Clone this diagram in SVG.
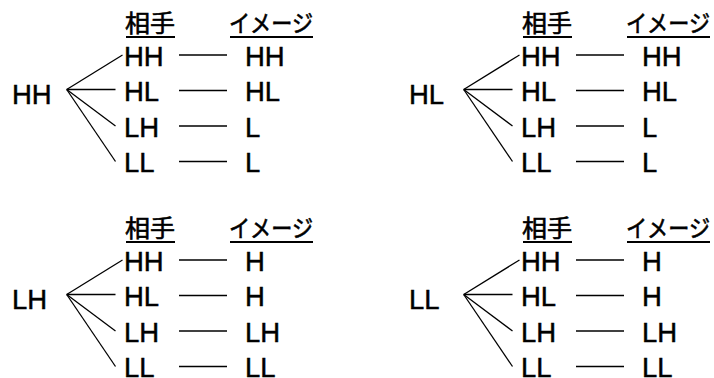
<svg xmlns="http://www.w3.org/2000/svg" width="714" height="378" viewBox="0 0 714 378">
<style>
.t{font-family:"Liberation Sans",Arial,sans-serif;font-size:27.5px;fill:#000;stroke:#000;stroke-width:0.45}
.h{font-family:"Noto Sans CJK JP","Liberation Sans",sans-serif;font-size:24px;fill:#000;stroke:#000;stroke-width:0.6}
.c{stroke:#000;stroke-width:1.3;fill:none}
.u{stroke:#000;stroke-width:2;fill:none}
</style>
<rect width="714" height="378" fill="#fff"/>

<!-- Block HH (top-left) -->
<g id="block-HH">
  <g id="hh-root"><text class="t" x="12" y="104">HH</text></g>
  <g id="hh-head1"><text class="h" x="125" y="32" textLength="50" lengthAdjust="spacingAndGlyphs">相手</text><line class="u" x1="126" y1="37" x2="175" y2="37"/></g>
  <g id="hh-head2"><text class="h" x="229" y="32" textLength="84" lengthAdjust="spacingAndGlyphs">イメージ</text><line class="u" x1="230" y1="37" x2="313" y2="37"/></g>
  <g id="hh-p1"><text class="t" x="124" y="65.5">HH</text></g>
  <g id="hh-p2"><text class="t" x="124" y="101">HL</text></g>
  <g id="hh-p3"><text class="t" x="124" y="136.5">LH</text></g>
  <g id="hh-p4"><text class="t" x="124" y="172">LL</text></g>
  <g id="hh-i1"><text class="t" x="245" y="65.5">HH</text></g>
  <g id="hh-i2"><text class="t" x="245" y="101">HL</text></g>
  <g id="hh-i3"><text class="t" x="245" y="136.5">L</text></g>
  <g id="hh-i4"><text class="t" x="245" y="172">L</text></g>
  <g id="hh-connectors">
    <line class="c" x1="66.7" y1="89.5" x2="122.5" y2="55"/>
    <line class="c" x1="66.7" y1="89.5" x2="115.5" y2="89.5"/>
    <line class="c" x1="66.7" y1="89.5" x2="115.5" y2="126"/>
    <line class="c" x1="66.7" y1="89.5" x2="115.5" y2="161.5"/>
    <line class="c" x1="179" y1="55" x2="227" y2="55"/>
    <line class="c" x1="179" y1="90.5" x2="227" y2="90.5"/>
    <line class="c" x1="179" y1="126" x2="227" y2="126"/>
    <line class="c" x1="179" y1="161.5" x2="227" y2="161.5"/>
  </g>
</g>

<!-- Block HL (top-right) -->
<g id="block-HL" transform="translate(397,0)">
  <g id="hl-root"><text class="t" x="12" y="104">HL</text></g>
  <g id="hl-head1"><text class="h" x="125" y="32" textLength="50" lengthAdjust="spacingAndGlyphs">相手</text><line class="u" x1="126" y1="37" x2="175" y2="37"/></g>
  <g id="hl-head2"><text class="h" x="229" y="32" textLength="84" lengthAdjust="spacingAndGlyphs">イメージ</text><line class="u" x1="230" y1="37" x2="313" y2="37"/></g>
  <g id="hl-p1"><text class="t" x="124" y="65.5">HH</text></g>
  <g id="hl-p2"><text class="t" x="124" y="101">HL</text></g>
  <g id="hl-p3"><text class="t" x="124" y="136.5">LH</text></g>
  <g id="hl-p4"><text class="t" x="124" y="172">LL</text></g>
  <g id="hl-i1"><text class="t" x="245" y="65.5">HH</text></g>
  <g id="hl-i2"><text class="t" x="245" y="101">HL</text></g>
  <g id="hl-i3"><text class="t" x="245" y="136.5">L</text></g>
  <g id="hl-i4"><text class="t" x="245" y="172">L</text></g>
  <g id="hl-connectors">
    <line class="c" x1="66.7" y1="89.5" x2="122.5" y2="55"/>
    <line class="c" x1="66.7" y1="89.5" x2="115.5" y2="89.5"/>
    <line class="c" x1="66.7" y1="89.5" x2="115.5" y2="126"/>
    <line class="c" x1="66.7" y1="89.5" x2="115.5" y2="161.5"/>
    <line class="c" x1="179" y1="55" x2="227" y2="55"/>
    <line class="c" x1="179" y1="90.5" x2="227" y2="90.5"/>
    <line class="c" x1="179" y1="126" x2="227" y2="126"/>
    <line class="c" x1="179" y1="161.5" x2="227" y2="161.5"/>
  </g>
</g>

<!-- Block LH (bottom-left) -->
<g id="block-LH" transform="translate(0,205)">
  <g id="lh-root"><text class="t" x="12" y="104">LH</text></g>
  <g id="lh-head1"><text class="h" x="125" y="32" textLength="50" lengthAdjust="spacingAndGlyphs">相手</text><line class="u" x1="126" y1="37" x2="175" y2="37"/></g>
  <g id="lh-head2"><text class="h" x="229" y="32" textLength="84" lengthAdjust="spacingAndGlyphs">イメージ</text><line class="u" x1="230" y1="37" x2="313" y2="37"/></g>
  <g id="lh-p1"><text class="t" x="124" y="65.5">HH</text></g>
  <g id="lh-p2"><text class="t" x="124" y="101">HL</text></g>
  <g id="lh-p3"><text class="t" x="124" y="136.5">LH</text></g>
  <g id="lh-p4"><text class="t" x="124" y="172">LL</text></g>
  <g id="lh-i1"><text class="t" x="245" y="65.5">H</text></g>
  <g id="lh-i2"><text class="t" x="245" y="101">H</text></g>
  <g id="lh-i3"><text class="t" x="245" y="136.5">LH</text></g>
  <g id="lh-i4"><text class="t" x="245" y="172">LL</text></g>
  <g id="lh-connectors">
    <line class="c" x1="66.7" y1="89.5" x2="122.5" y2="55"/>
    <line class="c" x1="66.7" y1="89.5" x2="115.5" y2="89.5"/>
    <line class="c" x1="66.7" y1="89.5" x2="115.5" y2="126"/>
    <line class="c" x1="66.7" y1="89.5" x2="115.5" y2="161.5"/>
    <line class="c" x1="179" y1="55" x2="227" y2="55"/>
    <line class="c" x1="179" y1="90.5" x2="227" y2="90.5"/>
    <line class="c" x1="179" y1="126" x2="227" y2="126"/>
    <line class="c" x1="179" y1="161.5" x2="227" y2="161.5"/>
  </g>
</g>

<!-- Block LL (bottom-right) -->
<g id="block-LL" transform="translate(397,205)">
  <g id="ll-root"><text class="t" x="12" y="104">LL</text></g>
  <g id="ll-head1"><text class="h" x="125" y="32" textLength="50" lengthAdjust="spacingAndGlyphs">相手</text><line class="u" x1="126" y1="37" x2="175" y2="37"/></g>
  <g id="ll-head2"><text class="h" x="229" y="32" textLength="84" lengthAdjust="spacingAndGlyphs">イメージ</text><line class="u" x1="230" y1="37" x2="313" y2="37"/></g>
  <g id="ll-p1"><text class="t" x="124" y="65.5">HH</text></g>
  <g id="ll-p2"><text class="t" x="124" y="101">HL</text></g>
  <g id="ll-p3"><text class="t" x="124" y="136.5">LH</text></g>
  <g id="ll-p4"><text class="t" x="124" y="172">LL</text></g>
  <g id="ll-i1"><text class="t" x="245" y="65.5">H</text></g>
  <g id="ll-i2"><text class="t" x="245" y="101">H</text></g>
  <g id="ll-i3"><text class="t" x="245" y="136.5">LH</text></g>
  <g id="ll-i4"><text class="t" x="245" y="172">LL</text></g>
  <g id="ll-connectors">
    <line class="c" x1="66.7" y1="89.5" x2="122.5" y2="55"/>
    <line class="c" x1="66.7" y1="89.5" x2="115.5" y2="89.5"/>
    <line class="c" x1="66.7" y1="89.5" x2="115.5" y2="126"/>
    <line class="c" x1="66.7" y1="89.5" x2="115.5" y2="161.5"/>
    <line class="c" x1="179" y1="55" x2="227" y2="55"/>
    <line class="c" x1="179" y1="90.5" x2="227" y2="90.5"/>
    <line class="c" x1="179" y1="126" x2="227" y2="126"/>
    <line class="c" x1="179" y1="161.5" x2="227" y2="161.5"/>
  </g>
</g>
</svg>
